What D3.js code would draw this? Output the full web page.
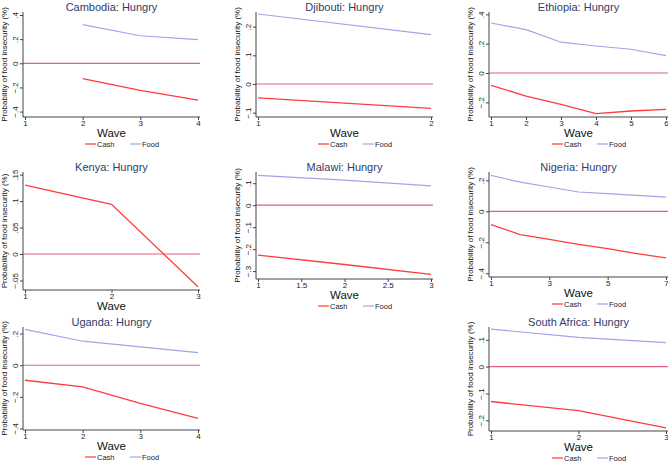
<!DOCTYPE html>
<html>
<head>
<meta charset="utf-8">
<script src="https://cdn.jsdelivr.net/npm/d3@7"></script>
<style>
  body { margin: 0; background: #fff; }
  svg { font-family: Arial, "Liberation Sans", sans-serif; }
  .axis path, .axis line { stroke: #444; }
</style>
</head>
<body>
<svg width="668" height="463"></svg>
<script>
// values
const cambodiaWaves = [2, 3, 4];
const cambodiaCash = [-0.127, -0.225, -0.305];
const cambodiaFood = [0.32, 0.228, 0.196];

const djiboutiWaves = [1, 2];
const djiboutiCash = [-0.048, -0.085];
const djiboutiFood = [0.244, 0.172];

const ethiopiaWaves = [1, 2, 3, 4, 5, 6];
const ethiopiaCash = [-0.084, -0.157, -0.214, -0.277, -0.259, -0.248];
const ethiopiaFood = [0.341, 0.296, 0.21, 0.184, 0.162, 0.119];

const kenyaWaves = [1, 2, 3];
const kenyaCash = [0.130, 0.094, -0.062];

const malawiWaves = [1, 2, 3];
const malawiCash = [-0.227, -0.27, -0.315];
const malawiFood = [0.136, 0.114, 0.088];

const nigeriaWaves = [1, 2, 3, 4, 5, 6, 7];
const nigeriaCash = [-0.086, -0.150, -0.181, -0.213, -0.241, -0.273, -0.301];
const nigeriaFood = [0.232, 0.189, 0.157, 0.125, 0.114, 0.103, 0.092];

const ugandaWaves = [1, 2, 3, 4];
const ugandaCash = [-0.095, -0.137, -0.242, -0.337];
const ugandaFood = [0.227, 0.152, 0.116, 0.080];

const southAfricaWaves = [1, 2, 3];
const southAfricaCash = [-0.130, -0.164, -0.228];
const southAfricaFood = [0.140, 0.109, 0.090];

const seriesNames = ["Cash", "Food"];
const colors = { Cash: "#ff3b3b", Food: "#a3a3ea" };

// panel layout (pixel boxes) plus the data they draw
const panels = [
  { title: "Cambodia: Hungry", waves: cambodiaWaves, cash: cambodiaCash, food: cambodiaFood,
    left: 23, right: 200, top: 12, bottom: 117, xDom: [1, 4], xTicks: [1, 2, 3, 4],
    yDom: [-0.445, 0.425], yTicks: [-0.4, -0.2, 0, 0.2, 0.4], legend: true },
  { title: "Djibouti: Hungry", waves: djiboutiWaves, cash: djiboutiCash, food: djiboutiFood,
    left: 256, right: 433, top: 12, bottom: 117, xDom: [1, 2], xTicks: [1, 2],
    yDom: [-0.115, 0.251], yTicks: [-0.1, 0, 0.1, 0.2], legend: true },
  { title: "Ethiopia: Hungry", waves: ethiopiaWaves, cash: ethiopiaCash, food: ethiopiaFood,
    left: 489, right: 668, top: 12, bottom: 117, xDom: [1, 6], xTicks: [1, 2, 3, 4, 5, 6],
    yDom: [-0.30, 0.416], yTicks: [-0.2, 0, 0.2, 0.4], legend: true },
  { title: "Kenya: Hungry", waves: kenyaWaves, cash: kenyaCash, food: null,
    left: 23, right: 200, top: 172, bottom: 290, xDom: [1, 3], xTicks: [1, 2, 3],
    yDom: [-0.068, 0.155], yTicks: [-0.05, 0, 0.05, 0.1, 0.15], legend: false },
  { title: "Malawi: Hungry", waves: malawiWaves, cash: malawiCash, food: malawiFood,
    left: 256, right: 433, top: 172, bottom: 279, xDom: [1, 3], xTicks: [1, 1.5, 2, 2.5, 3],
    yDom: [-0.336, 0.151], yTicks: [-0.3, -0.2, -0.1, 0, 0.1], legend: true },
  { title: "Nigeria: Hungry", waves: nigeriaWaves, cash: nigeriaCash, food: nigeriaFood,
    left: 489, right: 668, top: 172, bottom: 277, xDom: [1, 7], xTicks: [1, 3, 5, 7],
    yDom: [-0.424, 0.254], yTicks: [-0.4, -0.2, 0, 0.2], legend: true },
  { title: "Uganda: Hungry", waves: ugandaWaves, cash: ugandaCash, food: ugandaFood,
    left: 23, right: 200, top: 327, bottom: 430, xDom: [1, 4], xTicks: [1, 2, 3, 4],
    yDom: [-0.41, 0.242], yTicks: [-0.4, -0.2, 0, 0.2], legend: true },
  { title: "South Africa: Hungry", waves: southAfricaWaves, cash: southAfricaCash, food: southAfricaFood,
    left: 489, right: 668, top: 327, bottom: 431, xDom: [1, 3], xTicks: [1, 2, 3],
    yDom: [-0.24, 0.148], yTicks: [-0.2, -0.1, 0, 0.1], legend: true }
];

const svg = d3.select("svg");

// Stata-style tick labels: ".2", "-.1", "0"
function stataFmt(v) {
  if (v === 0) return "0";
  let s = String(+v.toFixed(3));
  s = s.replace(/^0\./, ".").replace(/^-0\./, "\u2212.").replace(/^-/, "\u2212");
  return s;
}

panels.forEach(p => {
  const g = svg.append("g");
  const x = d3.scaleLinear().domain(p.xDom).range([p.left + 2, p.right - 2]);
  const y = d3.scaleLinear().domain(p.yDom).range([p.bottom, p.top]);
  const cx = (p.left + p.right) / 2;

  // zero reference line
  g.append("line")
    .attr("x1", p.left).attr("x2", p.right)
    .attr("y1", y(0)).attr("y2", y(0))
    .attr("stroke", "#e2617f").attr("stroke-width", 1.2);

  const line = d3.line().x(d => x(d[0])).y(d => y(d[1]));
  if (p.food) {
    g.append("path")
      .datum(p.waves.map((w, i) => [w, p.food[i]]))
      .attr("d", line).attr("fill", "none")
      .attr("stroke", colors.Food).attr("stroke-width", 1.2);
  }
  g.append("path")
    .datum(p.waves.map((w, i) => [w, p.cash[i]]))
    .attr("d", line).attr("fill", "none")
    .attr("stroke", colors.Cash).attr("stroke-width", 1.3);

  // axes
  const xa = g.append("g").attr("class", "axis")
    .attr("transform", `translate(0,${p.bottom})`)
    .call(d3.axisBottom(x).tickValues(p.xTicks).tickSize(3).tickSizeOuter(0).tickFormat(d3.format("")));
  xa.select(".domain").attr("d", `M${p.left},0H${p.right}`);
  xa.selectAll("text").attr("font-size", 8).attr("fill", "#222").attr("dy", "0.6em").attr("y", 4);

  const ya = g.append("g").attr("class", "axis")
    .attr("transform", `translate(${p.left},0)`)
    .call(d3.axisLeft(y).tickValues(p.yTicks).tickSize(3).tickSizeOuter(0).tickFormat(stataFmt));
  ya.select(".domain").attr("d", `M0,${p.top}V${p.bottom}`);
  ya.selectAll("text")
    .attr("font-size", 8).attr("fill", "#222")
    .attr("x", 0).attr("dy", null)
    .attr("transform", "translate(-5,0) rotate(-90)")
    .attr("text-anchor", "middle").attr("y", 0);

  // titles
  g.append("text").attr("x", cx).attr("y", p.top - 1.5)
    .attr("text-anchor", "middle").attr("font-size", 11).attr("fill", "#2f3d6c")
    .text(p.title);
  g.append("text").attr("x", cx).attr("y", p.bottom + 20)
    .attr("text-anchor", "middle").attr("font-size", 11.5).attr("fill", "#111")
    .text("Wave");
  g.append("text")
    .attr("transform", `translate(${p.left - 16},${(p.top + p.bottom) / 2}) rotate(-90)`)
    .attr("text-anchor", "middle").attr("font-size", 8).attr("fill", "#111")
    .text("Probability of food insecurity (%)");

  // legend
  if (p.legend) {
    const ly = p.bottom + 27;
    seriesNames.forEach((name, i) => {
      const lx = cx + (i === 0 ? -26.5 : 18.5);
      g.append("line").attr("x1", lx).attr("x2", lx + 11)
        .attr("y1", ly).attr("y2", ly)
        .attr("stroke", colors[name]).attr("stroke-width", 1.2);
      g.append("text").attr("x", lx + 12).attr("y", ly + 2.5)
        .attr("font-size", 7.5).attr("fill", "#222").text(name);
    });
  }
});
</script>
</body>
</html>
